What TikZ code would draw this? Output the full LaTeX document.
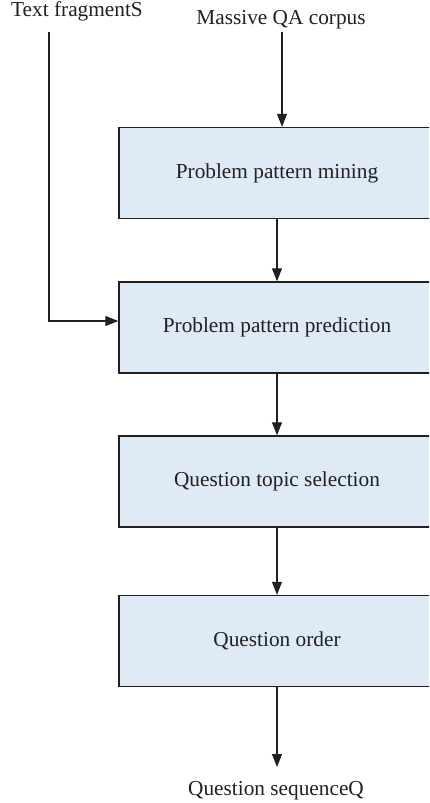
\documentclass[tikz,border=0pt]{standalone}
\usepackage{fontspec}
\setmainfont{Liberation Serif}
\usetikzlibrary{arrows.meta}
\definecolor{boxfill}{RGB}{222,235,246}
\definecolor{ink}{RGB}{35,31,32}
\tikzset{
  procbox/.style={draw=ink, line width=1.4bp, fill=boxfill, minimum width=316bp, minimum height=91bp, inner sep=0pt, font=\fontsize{21.3bp}{25bp}\selectfont, text=ink},
  lbl/.style={anchor=base, inner sep=0pt, font=\fontsize{21.3bp}{25bp}\selectfont, text=ink},
  conn/.style={draw=ink, line width=1.1bp, -{Triangle[length=13bp,width=10bp]}},
}
\begin{document}
\begin{tikzpicture}[x=1bp,y=-1bp]
\useasboundingbox (0,0) rectangle (429,803);
\begin{scope}
\clip (0,0) rectangle (429,803);
\node[procbox] (b1) at (277,173) {Problem pattern mining};
\node[procbox] (b2) at (277,327.5) {Problem pattern prediction};
\node[procbox] (b3) at (277,481.5) {Question topic selection};
\node[procbox] (b4) at (277,641) {Question order};
\end{scope}
\node[lbl] (tf) at (77,17) {Text fragmentS};
\node[lbl] (qa) at (281,24.5) {Massive QA corpus};
\node[lbl] (qs) at (276,795) {Question sequenceQ};
\coordinate (tfs) at (49,32);
\coordinate (qas) at (282,32);
\coordinate (tfc) at (49,321);
\coordinate (qse) at (277,767);
\draw[conn] (qas) -- (qas |- b1.north);
\draw[conn] (b1.south) -- (b2.north);
\draw[conn] (b2.south) -- (b3.north);
\draw[conn] (b3.south) -- (b4.north);
\draw[conn] (b4.south) -- (qse);
\draw[conn] (tfs) -- (tfc) -- (tfc -| b2.west);
\end{tikzpicture}
\end{document}
